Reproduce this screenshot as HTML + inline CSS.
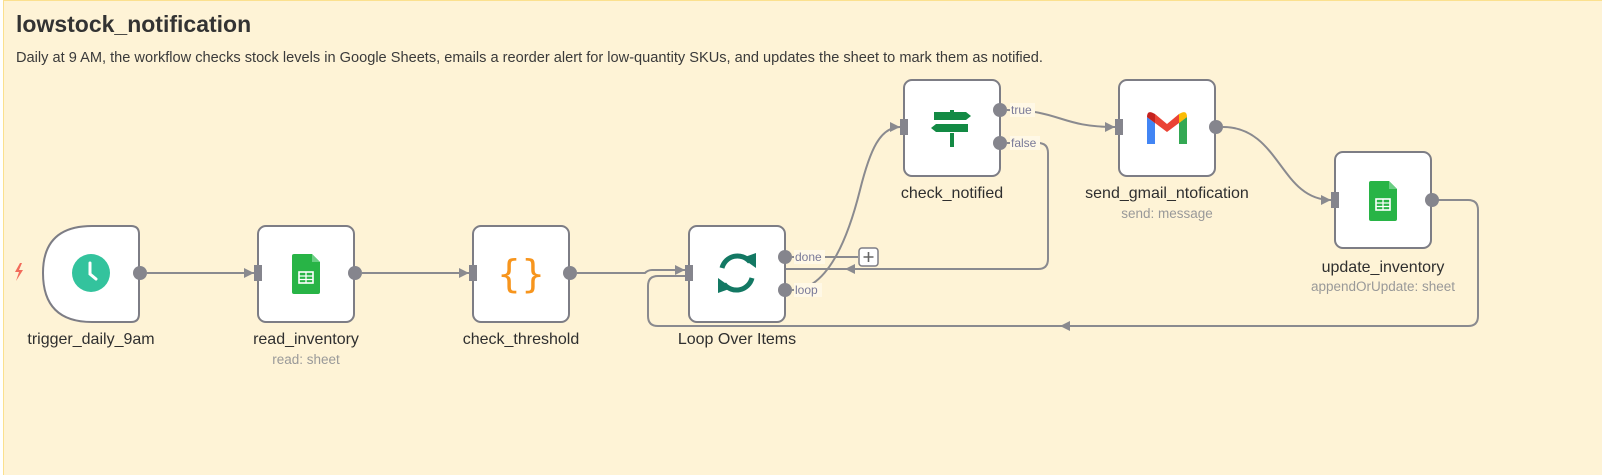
<!DOCTYPE html>
<html><head><meta charset="utf-8"><style>
html,body{margin:0;padding:0;width:1602px;height:475px;overflow:hidden;background:#fff;}
svg{display:block;font-family:"Liberation Sans",sans-serif;}
.lbl{font-size:16px;fill:#2f2f2f;text-anchor:middle;}
.sub{font-size:13.5px;fill:#999;text-anchor:middle;}
.pl{font-size:12px;fill:#7a7a99;}
.node{fill:#fff;stroke:#7d7d85;stroke-width:2;}
.c{fill:none;stroke:#8a8a8f;stroke-width:2;}
</style></head><body>
<svg width="1602" height="475" viewBox="0 0 1602 475">
<defs>
<marker id="ar" markerWidth="10" markerHeight="10" refX="10" refY="5" orient="auto" markerUnits="userSpaceOnUse"><path d="M0,0 L10,5 L0,10 z" fill="#8a8a8f"/></marker>
</defs>
<rect x="3.5" y="0.5" width="1610" height="480" fill="#fef3d6" stroke="#fbe08e" stroke-width="1"/>
<text x="16" y="32" font-size="23" font-weight="bold" fill="#333">lowstock_notification</text>
<text x="16" y="62" font-size="14.6" fill="#3a3a3a">Daily at 9 AM, the workflow checks stock levels in Google Sheets, emails a reorder alert for low-quantity SKUs, and updates the sheet to mark them as notified.</text>

<!-- connectors -->
<path class="c" d="M147,273 L254,273" marker-end="url(#ar)"/>
<path class="c" d="M362,273 L469,273" marker-end="url(#ar)"/>
<path class="c" d="M577,273 L645,273 Q648,270 652,270 L685,270" marker-end="url(#ar)"/>
<path class="c" d="M1438,200 L1468,200 Q1478,200 1478,210 L1478,316 Q1478,326 1468,326 L658,326 Q648,326 648,316 L648,286 Q648,276 658,276 L685,276"/>
<path d="M1060,326 l10,-5 v10 z" fill="#8a8a8f"/>
<path class="c" d="M1007,143 L1038,143 Q1048,143 1048,153 L1048,259 Q1048,269 1038,269 L785,269"/>
<path d="M845,269 l10,-5 v10 z" fill="#8a8a8f"/>
<path class="c" d="M792,290 C830,290 850,230 860,190 C870,150 880,127 900,127" marker-end="url(#ar)"/>
<path class="c" d="M792,257 L858,257"/>
<rect x="859" y="248" width="19" height="18" rx="3" fill="#fff" stroke="#7d7d85" stroke-width="1.5"/>
<path d="M868.5,252 v10 M863.5,257 h10" stroke="#666" stroke-width="1.6"/>
<path class="c" d="M1007,110 C1060,110 1060,127 1115,127" marker-end="url(#ar)"/>
<path class="c" d="M1223,127 C1280,127 1280,200 1331,200" marker-end="url(#ar)"/>

<!-- trigger -->
<path class="node" d="M92,226 L131,226 Q139,226 139,234 L139,314 Q139,322 131,322 L92,322 Q43,322 43,273 Q43,226 92,226 z"/>
<circle cx="91" cy="273" r="19" fill="#33c39d"/>
<path d="M90,263 v11 l6,5" stroke="#fff" stroke-width="3" fill="none" stroke-linecap="round"/>
<path d="M20,263 l-5,9 h4 l-3,9 l7,-11 h-4 l3,-7 z" fill="#f26b5b"/>
<circle cx="140" cy="273" r="7" fill="#85858d"/>
<text class="lbl" x="91" y="344">trigger_daily_9am</text>

<!-- read_inventory -->
<rect class="node" x="258" y="226" width="96" height="96" rx="8"/>
<rect x="254" y="265" width="8" height="16" fill="#85858d"/>
<g transform="translate(292,254)"><path d="M0,2 Q0,0 2,0 L20,0 L28,8 L28,38 Q28,40 26,40 L2,40 Q0,40 0,38 z" fill="#28b446"/><path d="M20,0 L28,8 L20,8 z" fill="#6ace83"/><rect x="7" y="18" width="14" height="11" fill="none" stroke="#fff" stroke-width="1.6"/><path d="M7,22 h14 M7,25.5 h14 M14,18 v11" stroke="#fff" stroke-width="1.3"/></g>
<circle cx="355" cy="273" r="7" fill="#85858d"/>
<text class="lbl" x="306" y="344">read_inventory</text>
<text class="sub" x="306" y="364">read: sheet</text>

<!-- check_threshold -->
<rect class="node" x="473" y="226" width="96" height="96" rx="8"/>
<rect x="469" y="265" width="8" height="16" fill="#85858d"/>
<text x="521" y="287" font-size="38" fill="#f7951d" text-anchor="middle" font-family="DejaVu Sans, sans-serif">{}</text>
<circle cx="570" cy="273" r="7" fill="#85858d"/>
<text class="lbl" x="521" y="344">check_threshold</text>

<!-- loop -->
<rect class="node" x="689" y="226" width="96" height="96" rx="8"/>
<rect x="685" y="265" width="8" height="16" fill="#85858d"/>
<g fill="none" stroke="#137863" stroke-width="5">
<path d="M722,268 A16,16 0 0 1 750,262"/>
<path d="M752,278 A16,16 0 0 1 724,284"/>
</g>
<path d="M742,258 L756,253 L756,268 z" fill="#137863"/>
<path d="M732,288 L718,293 L718,278 z" fill="#137863"/>
<circle cx="785" cy="257" r="7" fill="#85858d"/>
<circle cx="785" cy="290" r="7" fill="#85858d"/>
<rect x="794" y="250" width="31" height="14" fill="#fff8e6"/>
<rect x="794" y="283" width="28" height="14" fill="#fff8e6"/>
<text class="pl" x="795" y="261">done</text>
<text class="pl" x="795" y="294">loop</text>
<text class="lbl" x="737" y="344">Loop Over Items</text>

<!-- check_notified -->
<rect class="node" x="904" y="80" width="96" height="96" rx="8"/>
<rect x="900" y="119" width="8" height="16" fill="#85858d"/>
<g fill="#138a44"><rect x="950" y="110" width="4" height="7"/><rect x="950" y="133" width="4" height="14"/><path d="M934,112 h32 l5,4 l-5,4 h-32 z"/><path d="M936,124 h32 v8 h-32 l-5,-4 z"/></g>
<circle cx="1000" cy="110" r="7" fill="#85858d"/>
<circle cx="1000" cy="143" r="7" fill="#85858d"/>
<rect x="1010" y="103" width="25" height="14" fill="#fff8e6"/>
<rect x="1010" y="136" width="30" height="14" fill="#fff8e6"/>
<text class="pl" x="1011" y="114">true</text>
<text class="pl" x="1011" y="147">false</text>
<text class="lbl" x="952" y="198">check_notified</text>

<!-- gmail -->
<rect class="node" x="1119" y="80" width="96" height="96" rx="8"/>
<rect x="1115" y="119" width="8" height="16" fill="#85858d"/>
<g transform="translate(1167,115)">
<path d="M-20,2 L-20,29 L-12,29 L-12,8 z" fill="#4285f4"/>
<path d="M12,8 L12,29 L20,29 L20,2 z" fill="#34a853"/>
<path d="M-20,2 L0,17 L20,2 L12,-1 L0,9 L-12,-1 z" fill="#ea4335"/>
<path d="M-20,2 Q-20,-6 -12,-1 L-12,8 z" fill="#c5221f"/>
<path d="M20,2 Q20,-6 12,-1 L12,8 z" fill="#fbbc04"/>
</g>
<circle cx="1216" cy="127" r="7" fill="#85858d"/>
<text class="lbl" x="1167" y="198">send_gmail_ntofication</text>
<text class="sub" x="1167" y="218">send: message</text>

<!-- update_inventory -->
<rect class="node" x="1335" y="152" width="96" height="96" rx="8"/>
<rect x="1331" y="192" width="8" height="16" fill="#85858d"/>
<g transform="translate(1369,181)"><path d="M0,2 Q0,0 2,0 L20,0 L28,8 L28,38 Q28,40 26,40 L2,40 Q0,40 0,38 z" fill="#28b446"/><path d="M20,0 L28,8 L20,8 z" fill="#6ace83"/><rect x="7" y="18" width="14" height="11" fill="none" stroke="#fff" stroke-width="1.6"/><path d="M7,22 h14 M7,25.5 h14 M14,18 v11" stroke="#fff" stroke-width="1.3"/></g>
<circle cx="1432" cy="200" r="7" fill="#85858d"/>
<text class="lbl" x="1383" y="272">update_inventory</text>
<text class="sub" x="1383" y="291">appendOrUpdate: sheet</text>
</svg>
</body></html>
